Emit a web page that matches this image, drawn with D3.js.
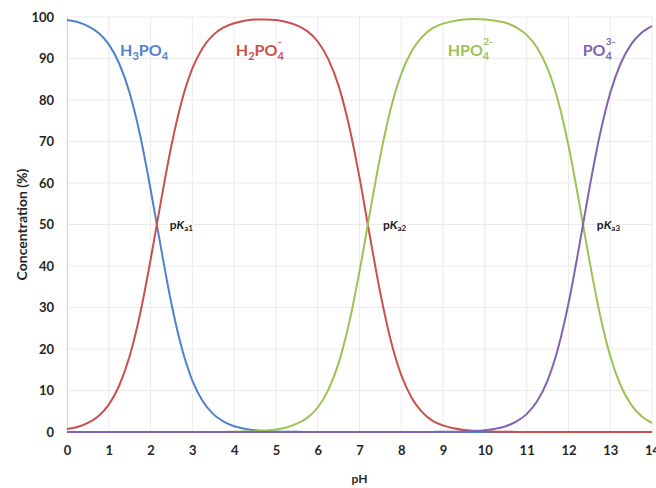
<!DOCTYPE html>
<html>
<head>
<meta charset="utf-8">
<script src="https://cdn.jsdelivr.net/npm/d3@7"></script>
<style>
  body { margin: 0; background: #fff; }
  text { font-family: Lato, "Open Sans", sans-serif; }
</style>
</head>
<body>
<div id="chart"></div>
<script>
// pH values and species percentages
var pH = [0, 0.25, 0.5, 0.75, 1, 1.25, 1.5, 1.75, 2, 2.25, 2.5, 2.75, 3, 3.25, 3.5, 3.75,
  4, 4.25, 4.5, 4.75, 5, 5.25, 5.5, 5.75, 6, 6.25, 6.5, 6.75, 7, 7.25, 7.5, 7.75,
  8, 8.25, 8.5, 8.75, 9, 9.25, 9.5, 9.75, 10, 10.25, 10.5, 10.75, 11, 11.25, 11.5, 11.75,
  12, 12.25, 12.5, 12.75, 13, 13.25, 13.5, 13.75, 14];
var h3po4 = [99.3, 98.8, 97.8, 96.2, 93.4, 88.8, 81.7, 71.5, 58.5, 44.3, 30.9, 20.1, 12.4, 7.4, 4.3, 2.5,
  1.4, 0.8, 0.4, 0.25, 0.1, 0.08, 0.04, 0.02, 0, 0, 0, 0, 0, 0, 0, 0,
  0, 0, 0, 0, 0, 0, 0, 0, 0, 0, 0, 0, 0, 0, 0, 0,
  0, 0, 0, 0, 0, 0, 0, 0, 0];
var h2po4 = [0.7, 1.2, 2.2, 3.8, 6.6, 11.2, 18.3, 28.5, 41.5, 55.7, 69.1, 79.9, 87.6, 92.6, 95.7, 97.5,
  98.5, 99.1, 99.4, 99.4, 99.3, 98.8, 98.0, 96.6, 94.1, 89.9, 83.4, 73.8, 61.3, 47.1, 33.4, 22.0,
  13.7, 8.2, 4.8, 2.7, 1.6, 0.9, 0.5, 0.3, 0.16, 0.09, 0.05, 0.03, 0, 0, 0, 0,
  0, 0, 0, 0, 0, 0, 0, 0, 0];
var hpo4 = [0, 0, 0, 0, 0, 0, 0, 0, 0, 0, 0, 0, 0, 0, 0, 0.03,
  0.06, 0.11, 0.2, 0.35, 0.6, 1.1, 2.0, 3.4, 5.9, 10.1, 16.6, 26.2, 38.7, 52.9, 66.6, 78.0,
  86.3, 91.8, 95.2, 97.3, 98.4, 99.0, 99.4, 99.5, 99.4, 99.1, 98.6, 97.5, 95.7, 92.6, 87.6, 79.9,
  69.1, 55.7, 41.4, 28.5, 18.3, 11.2, 6.6, 3.8, 2.2];
var po4 = [0, 0, 0, 0, 0, 0, 0, 0, 0, 0, 0, 0, 0, 0, 0, 0,
  0, 0, 0, 0, 0, 0, 0, 0, 0, 0, 0, 0, 0, 0, 0, 0,
  0, 0.01, 0.01, 0.03, 0.05, 0.08, 0.14, 0.25, 0.45, 0.8, 1.4, 2.5, 4.3, 7.4, 12.4, 20.1,
  30.9, 44.3, 58.6, 71.5, 81.7, 88.8, 93.4, 96.2, 97.8];

var xTicks = [0, 1, 2, 3, 4, 5, 6, 7, 8, 9, 10, 11, 12, 13, 14];
var yTicks = [0, 10, 20, 30, 40, 50, 60, 70, 80, 90, 100];

var width = 656, height = 488;
var margin = {top: 17, right: 4, bottom: 56, left: 67};

var svg = d3.select("#chart").append("svg")
    .attr("width", width)
    .attr("height", height);

var x = d3.scaleLinear().domain([0, 14]).range([margin.left, width - margin.right]);
var y = d3.scaleLinear().domain([0, 100]).range([height - margin.bottom, margin.top]);

// gridlines
svg.append("g").selectAll("line").data(xTicks).enter().append("line")
    .attr("x1", function(d) { return x(d); }).attr("x2", function(d) { return x(d); })
    .attr("y1", y(0)).attr("y2", y(100))
    .attr("stroke", "#ebebeb").attr("stroke-width", 1);
svg.append("g").selectAll("line").data(yTicks).enter().append("line")
    .attr("x1", x(0)).attr("x2", x(14))
    .attr("y1", function(d) { return y(d); }).attr("y2", function(d) { return y(d); })
    .attr("stroke", "#ebebeb").attr("stroke-width", 1);

// axes
var xAxis = svg.append("g")
    .attr("transform", "translate(0," + y(0) + ")")
    .call(d3.axisBottom(x).tickValues(xTicks).tickSize(0).tickPadding(14));
var yAxis = svg.append("g")
    .attr("transform", "translate(" + x(0) + ",0)")
    .call(d3.axisLeft(y).tickValues(yTicks).tickSize(0).tickPadding(13));
[xAxis, yAxis].forEach(function(a) {
  a.select(".domain").attr("stroke", "#d9d9d9");
  a.selectAll("text")
    .style("font-family", "Lato, sans-serif")
    .style("font-size", "13px")
    .style("font-weight", "bold")
    .attr("fill", "#262626");
});

// axis titles
svg.append("text")
    .attr("x", (x(0) + x(14)) / 2).attr("y", 483)
    .attr("text-anchor", "middle")
    .style("font-size", "12px").style("font-weight", "bold")
    .attr("fill", "#262626")
    .text("pH");
svg.append("text")
    .attr("transform", "translate(27," + (y(50)) + ") rotate(-90)")
    .attr("text-anchor", "middle")
    .style("font-size", "14px").style("font-weight", "bold")
    .attr("fill", "#262626")
    .text("Concentration (%)");

// species curves
var series = [
  {values: h3po4, color: "#4f81cd"},
  {values: h2po4, color: "#c9504d"},
  {values: hpo4, color: "#9bc255"},
  {values: po4, color: "#8064b2"}
];

var line = d3.line()
    .curve(d3.curveMonotoneX)
    .x(function(d, i) { return x(pH[i]); })
    .y(function(d) { return y(d); });

svg.append("g").selectAll("path").data(series).enter().append("path")
    .attr("d", function(s) { return line(s.values); })
    .attr("fill", "none")
    .attr("stroke", function(s) { return s.color; })
    .attr("stroke-width", 2);

// species labels
var labels = [
  {pH: 1.27, c: 90.6, base: "H", sub1: "3", mid: "PO", sub2: "4", sup: "", color: "#4f81cd"},
  {pH: 4.04, c: 90.6, base: "H", sub1: "2", mid: "PO", sub2: "4", sup: "-", color: "#c9504d"},
  {pH: 9.11, c: 90.6, base: "", sub1: "", mid: "HPO", sub2: "4", sup: "2-", color: "#9bc255"},
  {pH: 12.34, c: 90.6, base: "", sub1: "", mid: "PO", sub2: "4", sup: "3-", color: "#8064b2"}
];

labels.forEach(function(l) {
  var t = svg.append("text")
      .attr("x", x(l.pH)).attr("y", y(l.c))
      .attr("fill", l.color)
      .style("font-size", "16px").style("font-weight", "bold");
  if (l.base) t.append("tspan").text(l.base);
  if (l.sub1) t.append("tspan").attr("dy", 4).style("font-size", "11px").text(l.sub1);
  t.append("tspan").attr("dy", l.sub1 ? -4 : 0).text(l.mid);
  t.append("tspan").attr("dy", 4).style("font-size", "11px").text(l.sub2);
  if (l.sup) t.append("tspan").attr("dx", -6).attr("dy", -15).style("font-size", "10px").text(l.sup);
});

// pKa labels
var pkaPos = [2.46, 7.56, 12.68];
var pkaSub = ["a1", "a2", "a3"];

pkaPos.forEach(function(p, i) {
  var t = svg.append("text")
      .attr("x", x(p)).attr("y", y(49))
      .attr("fill", "#1a1a1a")
      .style("font-size", "12px").style("font-weight", "bold");
  t.append("tspan").text("p");
  t.append("tspan").style("font-style", "italic").text("K");
  t.append("tspan").attr("dy", 2).style("font-size", "8px").text(pkaSub[i]);
});
</script>
</body>
</html>
